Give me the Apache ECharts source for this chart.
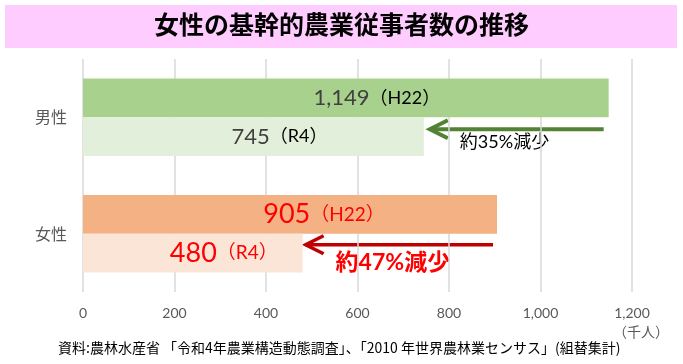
<!DOCTYPE html>
<html><head><meta charset="utf-8">
<script src="https://cdn.jsdelivr.net/npm/echarts@6/dist/echarts.min.js"></script>
<style>html,body{margin:0;padding:0;background:#fff}#c{width:683px;height:364px}</style>
</head><body><div id="c"></div>
<script>
const titleText = '女性の基幹的農業従事者数の推移';
const categories = ['男性', '女性'];
const valuesH22 = [1149, 905];
const valuesR4 = [745, 480];
const eraH22 = 'H22';
const eraR4 = 'R4';
const decreaseTexts = ['約35%減少', '約47%減少'];
const xTickMin = 0, xTickMax = 1200, xTickStep = 200;
const unitText = '（千人）';
const sourceText = '資料:農林水産省 「令和4年農業構造動態調査」、「2010 年世界農林業センサス」(組替集計)';

const NUM_FONT = 'Lato, "Noto Sans CJK JP", sans-serif';
const JP_FONT = '"Noto Sans CJK JP", sans-serif';
const catStyle = [
  {h22: '#A9D18E', r4: '#E2EFDA', num: '#404040', tag: '#000000', numSize: 22, tagSize: 18, offH22: 31, offR4: 26,
   arrow: '#548235', arrowW: 4, txt: '#000000', txtSize: 18, txtWeight: 'normal', txtDy: 13},
  {h22: '#F4B183', r4: '#FBE5D6', num: '#FF0000', tag: '#FF0000', numSize: 27, tagSize: 19, offH22: 34, offR4: 31,
   arrow: '#C00000', arrowW: 3.5, txt: '#FF0000', txtSize: 23, txtWeight: 'bold', txtDy: 18}
];
const fmt = v => v.toLocaleString('en-US');

function makeRich() {
  const r = {};
  catStyle.forEach((s, i) => {
    r['n' + i] = {fontFamily: NUM_FONT, fontSize: s.numSize, color: s.num};
    r['t' + i] = {fontFamily: NUM_FONT, fontSize: s.tagSize, color: s.tag};
  });
  return r;
}
function makeSeries(name, values, era, colorKey, offKey) {
  return {
    name: name, type: 'bar', barGap: '0%', barCategoryGap: '33.5%',
    data: values.map((v, i) => ({
      value: v,
      itemStyle: {color: catStyle[i][colorKey]},
      label: {offset: [catStyle[i][offKey], 0]}
    })),
    label: {
      show: true, position: 'inside',
      formatter: p => '{n' + p.dataIndex + '|' + fmt(p.value) + '}{t' + p.dataIndex + '|（' + era + '）}',
      rich: makeRich()
    },
    emphasis: {disabled: true},
    silent: true
  };
}

const chart = echarts.init(document.getElementById('c'));
const baseGraphic = [
  {type: 'rect', left: 5, top: 5, shape: {width: 672, height: 43}, style: {fill: '#FFCCFF'}, silent: true},
  {type: 'text', left: 'center', top: 12, style: {text: titleText, font: 'bold 25px "Noto Sans CJK JP", sans-serif', fill: '#000'}},
  {type: 'text', right: 14, top: 325, style: {text: unitText, font: '14px "Noto Sans CJK JP", sans-serif', fill: '#595959'}},
  {type: 'text', left: 58, top: 341, style: {text: sourceText, font: '14px "Noto Sans CJK JP", sans-serif', fill: '#000'}}
];
chart.setOption({
  animation: false,
  grid: {left: 83, right: 51, top: 59, bottom: 72},
  xAxis: {
    type: 'value', min: xTickMin, max: xTickMax, interval: xTickStep,
    axisLine: {show: false}, axisTick: {show: false},
    splitLine: {show: true, lineStyle: {color: '#D9D9D9', width: 1.5}},
    axisLabel: {formatter: v => fmt(v), color: '#595959', fontSize: 14, fontFamily: NUM_FONT, margin: 14}
  },
  yAxis: {
    type: 'category', data: categories, inverse: true,
    axisLine: {show: false}, axisTick: {show: false},
    axisLabel: {color: '#595959', fontSize: 16, fontFamily: JP_FONT, margin: 16}
  },
  series: [
    makeSeries('H22', valuesH22, eraH22, 'h22', 'offH22'),
    makeSeries('R4', valuesR4, eraR4, 'r4', 'offR4')
  ],
  graphic: baseGraphic
});

// arrows between the bars, positioned from data values
const extra = [];
categories.forEach((c, i) => {
  const s = catStyle[i];
  const pStart = chart.convertToPixel({gridIndex: 0}, [valuesH22[i], i]);
  const pEnd = chart.convertToPixel({gridIndex: 0}, [valuesR4[i], i]);
  const y = pStart[1] + (i === 0 ? 12 : 11);
  const x0 = pStart[0] - (i === 0 ? 5 : 4);
  const x1 = pEnd[0] + (i === 0 ? 6 : 3);
  extra.push({type: 'line', shape: {x1: x0, y1: y, x2: x1 + 2, y2: y}, style: {stroke: s.arrow, lineWidth: s.arrowW}, silent: true});
  extra.push({type: 'polyline', shape: {points: [[x1 + 18, y - 9], [x1, y], [x1 + 18, y + 9]]},
    style: {stroke: s.arrow, lineWidth: s.arrowW, fill: null, lineJoin: 'miter'}, silent: true});
  extra.push({type: 'text', x: x1 + 30, y: y + s.txtDy,
    style: {text: decreaseTexts[i], font: s.txtWeight + ' ' + s.txtSize + 'px ' + NUM_FONT, fill: s.txt, textVerticalAlign: 'middle'}});
});
chart.setOption({graphic: baseGraphic.concat(extra)});
</script>
</body></html>
